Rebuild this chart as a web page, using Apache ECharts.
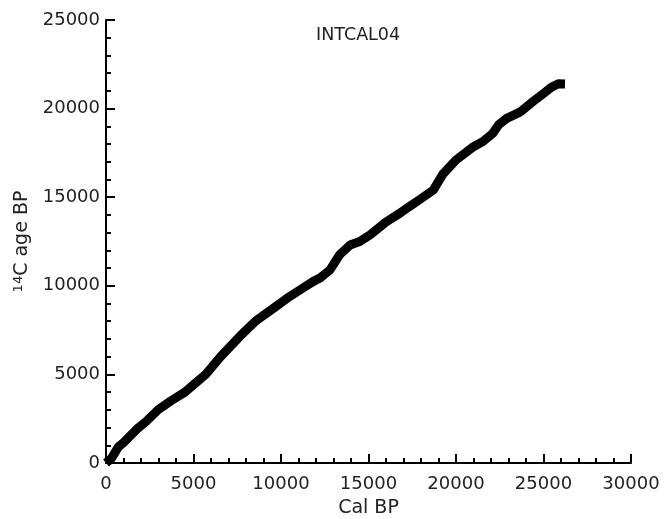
<!DOCTYPE html>
<html>
<head>
<meta charset="utf-8">
<script src="https://cdn.jsdelivr.net/npm/echarts@6/dist/echarts.min.js"></script>
<style>html,body{margin:0;padding:0;background:#fff}#c{width:666px;height:519px}</style>
</head>
<body>
<div id="c"></div>
<script>
const titleText = 'INTCAL04';
const xAxisName = 'Cal BP';
const calBP = [0, 300, 700, 1000, 1750, 2300, 2970, 3700, 4510, 5100, 5700, 6550, 7650, 8600, 9450, 10500, 11300, 11850, 12250, 12800, 13350, 13950, 14500, 15100, 16000, 16800, 17300, 17900, 18700, 19250, 20000, 21000, 21550, 22100, 22450, 22900, 23650, 24400, 25000, 25450, 25850, 26230];
const c14Age = [0, 250, 900, 1150, 1900, 2350, 3000, 3500, 4000, 4500, 5000, 6000, 7150, 8050, 8650, 9400, 9900, 10250, 10450, 10900, 11750, 12300, 12500, 12880, 13600, 14100, 14450, 14850, 15400, 16300, 17100, 17850, 18150, 18600, 19100, 19450, 19800, 20400, 20850, 21200, 21400, 21390];

const font = 'DejaVu Sans';
const plain = v => String(v);
const chart = echarts.init(document.getElementById('c'), null, {renderer: 'canvas'});
chart.setOption({
  backgroundColor: '#fff',
  animation: false,
  title: {
    text: titleText, left: 311, top: 21,
    textStyle: {fontFamily: font, fontSize: 17.5, fontWeight: 'normal', color: '#222'}
  },
  grid: {left: 106, right: 35, top: 20, bottom: 56, containLabel: false, outerBoundsMode: 'none'},
  xAxis: {
    type: 'value', min: 0, max: 30000, interval: 5000,
    name: xAxisName, nameLocation: 'middle', nameGap: 36,
    nameTextStyle: {fontFamily: font, fontSize: 19, color: '#222'},
    axisLine: {show: true, onZero: false, lineStyle: {color: '#000', width: 2}},
    axisTick: {show: true, inside: true, length: 9, lineStyle: {color: '#000', width: 2}},
    minorTick: {show: true, splitNumber: 5, length: 5, lineStyle: {color: '#000', width: 2}},
    splitLine: {show: false},
    axisLabel: {fontFamily: font, fontSize: 18, color: '#222', margin: 12, formatter: plain}
  },
  yAxis: {
    type: 'value', min: 0, max: 25000, interval: 5000,
    name: '{sup|14}C age BP', nameLocation: 'middle', nameGap: 70,
    nameTextStyle: {fontFamily: font, fontSize: 19, color: '#222',
      rich: {sup: {fontFamily: font, fontSize: 13, color: '#222', verticalAlign: 'top', padding: [0,0,8,0]}}},
    axisLine: {show: true, onZero: false, lineStyle: {color: '#000', width: 2}},
    axisTick: {show: true, inside: true, length: 9, lineStyle: {color: '#000', width: 2}},
    minorTick: {show: true, splitNumber: 5, length: 5, lineStyle: {color: '#000', width: 2}},
    splitLine: {show: false},
    axisLabel: {fontFamily: font, fontSize: 18, color: '#222', margin: 6, formatter: plain}
  },
  series: [{
    type: 'line',
    data: calBP.map((v, i) => [v, c14Age[i]]),
    symbol: 'none',
    smooth: false,
    lineStyle: {color: '#000', width: 9, join: 'round', cap: 'butt'},
    z: 1
  }]
});
</script>
</body>
</html>
